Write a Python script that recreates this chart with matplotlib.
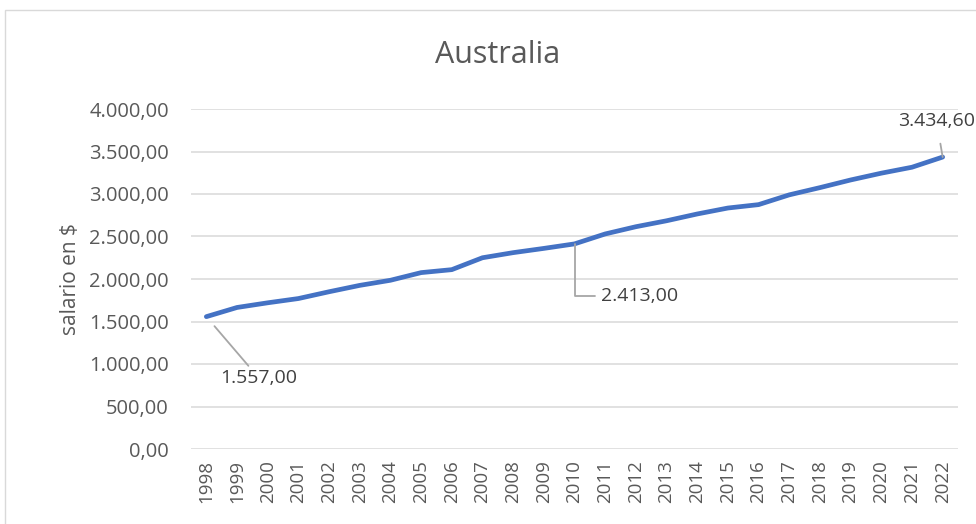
import matplotlib
matplotlib.use("Agg")
import matplotlib.pyplot as plt
from matplotlib.patches import Rectangle

years = [str(y) for y in range(1998, 2023)]
salario = [1557, 1665, 1720, 1770, 1850, 1925, 1985, 2075, 2110, 2250,
           2310, 2360, 2413, 2530, 2615, 2685, 2765, 2835, 2875, 2990,
           3075, 3165, 3245, 3315, 3434.6]
y_ticks = [0, 500, 1000, 1500, 2000, 2500, 3000, 3500, 4000]
title = "Australia"
ylabel = "salario en $"

def fmt(v):
    s = f"{v:,.2f}"
    return s.replace(",", "X").replace(".", ",").replace("X", ".")

plt.rcParams['font.family'] = ['Open Sans', 'DejaVu Sans']
txt = '#595959'

fig = plt.figure(figsize=(9.76, 5.24), dpi=100)
W, H = 976, 524
fig.patches.append(Rectangle((5 / W, -0.1), 1.2, 1 - 10 / H + 0.1, transform=fig.transFigure,
                             fill=False, edgecolor='#D9D9D9', linewidth=1))

ax = fig.add_axes([191 / W, 1 - 449 / H, (958 - 191) / W, (449 - 109) / H])
x = list(range(len(years)))
ax.plot(x, salario, color='#4472C4', linewidth=3.4, solid_capstyle='round',
        solid_joinstyle='round', zorder=3)
ax.set_xlim(-0.5, len(years) - 0.5)
ax.set_ylim(0, 4000)
ax.set_yticks(y_ticks)
ax.set_yticklabels([fmt(v) for v in y_ticks])
ax.set_xticks(x)
ax.set_xticklabels(years, rotation=90)
ax.tick_params(axis='both', length=0, colors=txt)
ax.tick_params(axis='y', pad=16, labelsize=14.5)
ax.tick_params(axis='x', pad=8, labelsize=13.5)
ax.grid(axis='y', color='#D9D9D9', linewidth=1.1)
ax.set_axisbelow(True)
for s in ax.spines.values():
    s.set_visible(False)
ax.set_ylabel(ylabel, color=txt, fontsize=15, labelpad=6)
fig.text(498 / W, 1 - 55 / H, title, ha='center', va='center', fontsize=22, color=txt)

lc = '#A6A6A6'
# annotations
i0 = 0
ax.annotate(fmt(salario[i0]), xy=(x[i0], salario[i0]), xytext=(x[i0] + 1.7, 840),
            ha='center', va='center', fontsize=14, color='#404040',
            arrowprops=dict(arrowstyle='-', color=lc, lw=1.3, shrinkB=9, shrinkA=0))
i1 = years.index('2010')
ax.annotate(fmt(salario[i1]), xy=(x[i1], salario[i1]), xytext=(x[i1] + 0.85, 1800),
            ha='left', va='center', fontsize=14, color='#404040',
            arrowprops=dict(arrowstyle='-', color=lc, lw=1.3, shrinkA=2, shrinkB=0,
                            connectionstyle='angle,angleA=0,angleB=90,rad=0'))
i2 = len(years) - 1
ax.annotate(fmt(salario[i2]), xy=(x[i2], salario[i2]), xytext=(x[i2] - 0.2, 3860),
            ha='center', va='center', fontsize=14, color='#404040', annotation_clip=False,
            arrowprops=dict(arrowstyle='-', color=lc, lw=1.3, shrinkA=8, shrinkB=0))

fig.savefig('out.png', dpi=100)
